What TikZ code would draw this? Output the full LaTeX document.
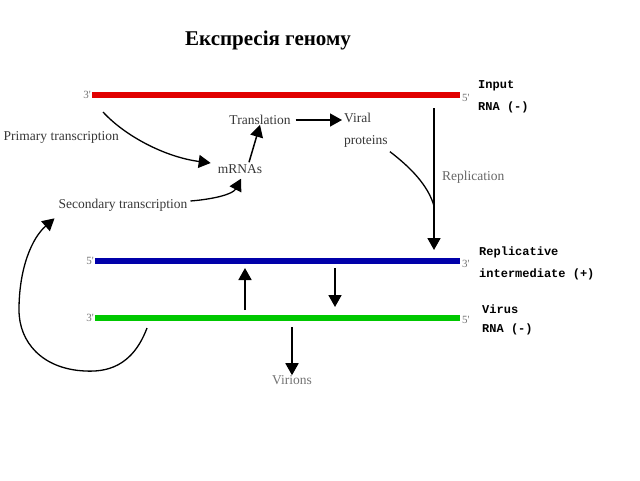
\documentclass[tikz,border=0pt]{standalone}
\usepackage{fontspec}
\setmainfont{Liberation Serif}
\newfontfamily\sidefont{Liberation Mono}
\usetikzlibrary{arrows.meta,positioning}
\definecolor{strandred}{RGB}{225,0,0}
\definecolor{strandblue}{RGB}{0,0,170}
\definecolor{strandgreen}{RGB}{0,200,0}
\definecolor{textgrey}{RGB}{55,55,55}
\tikzset{
  strand/.style={line width=6.5pt},
  end label/.style={font=\fontsize{11}{12}\selectfont, text=black!55, inner sep=1pt},
  stage text/.style={font=\fontsize{13.5}{15}\selectfont, text=textgrey, inner sep=0pt},
  side label/.style={font=\sidefont\bfseries\fontsize{12}{22}\selectfont, align=left, anchor=west, inner sep=0pt},
  fat arrow/.style={-{Triangle[length=12pt,width=13pt]}, line width=1.8pt},
  bent arrow/.style={-{Triangle[length=12pt,width=13pt]}, line width=1.3pt},
  }
\newcommand{\pr}{\textquotesingle}

\begin{document}
\begin{tikzpicture}[x=1pt,y=-1pt]
            \useasboundingbox (0,0) rectangle (640,480);

            % Title
            \node[font=\bfseries\fontsize{21}{25}\selectfont] (title) at (268,40) {Експресія геному};

            % Strands
            \coordinate (redL) at (92,95);    \coordinate (redR) at (460,95);
            \coordinate (blueL) at (95,261);  \coordinate (blueR) at (460,261);
            \coordinate (greenL) at (95,318); \coordinate (greenR) at (460,318);
            \draw[strand,strandred] (redL) -- (redR);
            \draw[strand,strandblue] (blueL) -- (blueR);
            \draw[strand,strandgreen] (greenL) -- (greenR);

            \node[end label,left=0pt of redL] (r3) {3\pr};
            \node[end label,right=1pt of redR,yshift=-3pt] (r5) {5\pr};
            \node[end label,left=0pt of blueL] (b5) {5\pr};
            \node[end label,right=1pt of blueR,yshift=-3pt] (b3) {3\pr};
            \node[end label,left=0pt of greenL] (g3) {3\pr};
            \node[end label,right=1pt of greenR,yshift=-2pt] (g5) {5\pr};

            \node[side label] (input) at (478,96.5) {Input\\RNA (-)};
            \node[side label] (inter) at (479,263) {Replicative\\intermediate (+)};
            \node[side label] (virus) at (482,319.5) {Virus\\[-3pt]RNA (-)};

            % Stages
            \node[stage text,anchor=east] (prim) at (119,137) {Primary transcription};
            \node[stage text] (sec) at (123,205) {Secondary transcription};
            \node[stage text] (mrna) at (240,169) {mRNAs};
            \node[stage text] (transl) at (260,120) {Translation};
            \node[stage text,anchor=north west,align=left,font=\fontsize{13.5}{22}\selectfont] (viral) at (344,113) {Viral\\proteins};
            \node[stage text,anchor=west,text=black!60] (repl) at (442,177) {Replication};
            \node[stage text,text=black!55] (virions) at (292,380) {Virions};

            % Arrows
            \coordinate (pstart) at (103,112);
            \draw[bent arrow] (pstart) .. controls (125,136) and (165,157) .. ([shift={(-7,-6)}]mrna.west);
            \draw[bent arrow] (sec.east) ++(3,-4) .. controls (215,199) and (233,194) .. ([shift={(1,5)}]mrna.south);
            \draw[fat arrow,line width=1.5pt] (mrna.north) ++(9,-2) -- (transl.south);
            \draw[fat arrow,line width=1.5pt] (transl.east) ++(5,0) -- ([xshift=-2pt]transl.east -| viral.west);

            % Replication
            \coordinate (rtop) at (434,108);
            \coordinate (rjoin) at (434,206);
            \coordinate (rtip) at (434,250);
            \draw[line width=1.8pt] (rtop) -- (rjoin);
            \draw[fat arrow] (rjoin) -- (rtip);
            \draw[line width=1.3pt] (viral.south east) ++(2,4) .. controls (410,167) and (428,185) .. (rjoin);

            % Between strands
            \coordinate (upS) at (245,310);  \coordinate (upE) at (245,268);
            \coordinate (dnS) at (335,268);  \coordinate (dnE) at (335,307);
            \coordinate (vS) at (292,327);
            \draw[fat arrow] (upS) -- (upE);
            \draw[fat arrow] (dnS) -- (dnE);
            \draw[fat arrow] (vS) -- (virions.north);

            % Loop back
            \coordinate (lstart) at (147,328);
            \draw[bent arrow] (lstart) .. controls (132,368) and (105,372) .. (85,371)
                .. controls (42,369) and (19,342) .. (19,310)
                .. controls (19,268) and (32,238) .. ([shift={(-4,7)}]sec.south west);
        \end{tikzpicture}
\end{document}
